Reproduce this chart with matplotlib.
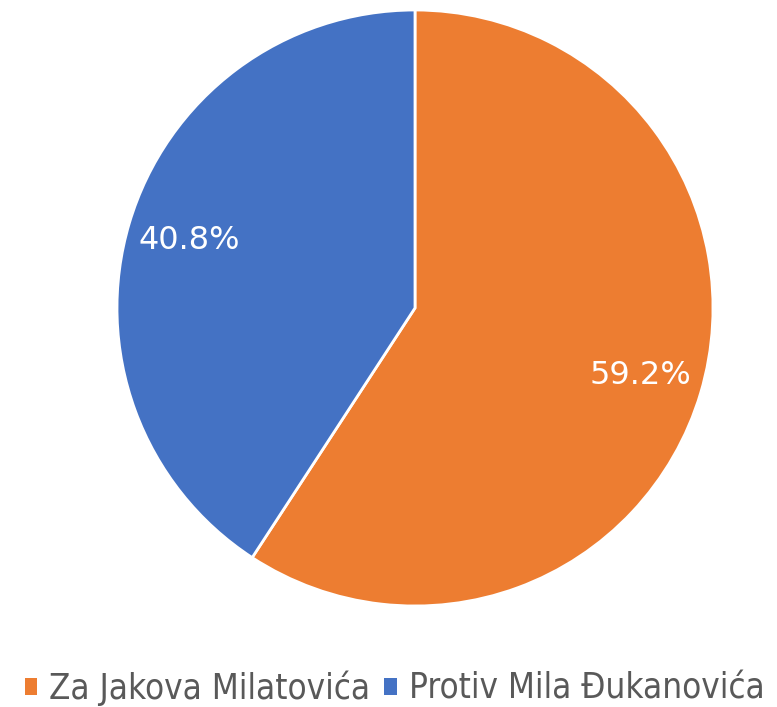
import matplotlib
matplotlib.use('Agg')
import matplotlib.pyplot as plt
from matplotlib.patches import Patch
from matplotlib.font_manager import FontProperties

labels = ['Za Jakova Milatovića', 'Protiv Mila Đukanovića']
values = [59.2, 40.8]
colors = ['#ED7D31', '#4472C4']

fig = plt.figure(figsize=(7.77, 7.07), dpi=100)
ax = fig.add_axes([117 / 777, 101 / 707, 596 / 777, 596 / 707])

wedges, _, autotexts = ax.pie(values, colors=colors, startangle=90, counterclock=False,
                              autopct='%.1f%%', pctdistance=0.79, radius=1.0,
                              wedgeprops=dict(edgecolor='white', linewidth=2))
for t in autotexts:
    t.set_color('white')
    t.set_fontsize(23)
ax.set_xlim(-1.0, 1.0)
ax.set_ylim(-1.0, 1.0)
ax.set_aspect('auto')
ax.axis('off')

handles = [Patch(facecolor=c, edgecolor='none', label=l) for c, l in zip(colors, labels)]
prop = FontProperties(family=['DejaVu Sans'], stretch='condensed', size=25)
leg = fig.legend(handles=handles, loc='center', bbox_to_anchor=(0.508, 19 / 707), ncol=2,
                 frameon=False, handlelength=0.36, handleheight=0.4,
                 handletextpad=0.35, columnspacing=0.4, prop=prop)
for t in leg.get_texts():
    t.set_color('#595959')

fig.savefig('out.png', dpi=100)
